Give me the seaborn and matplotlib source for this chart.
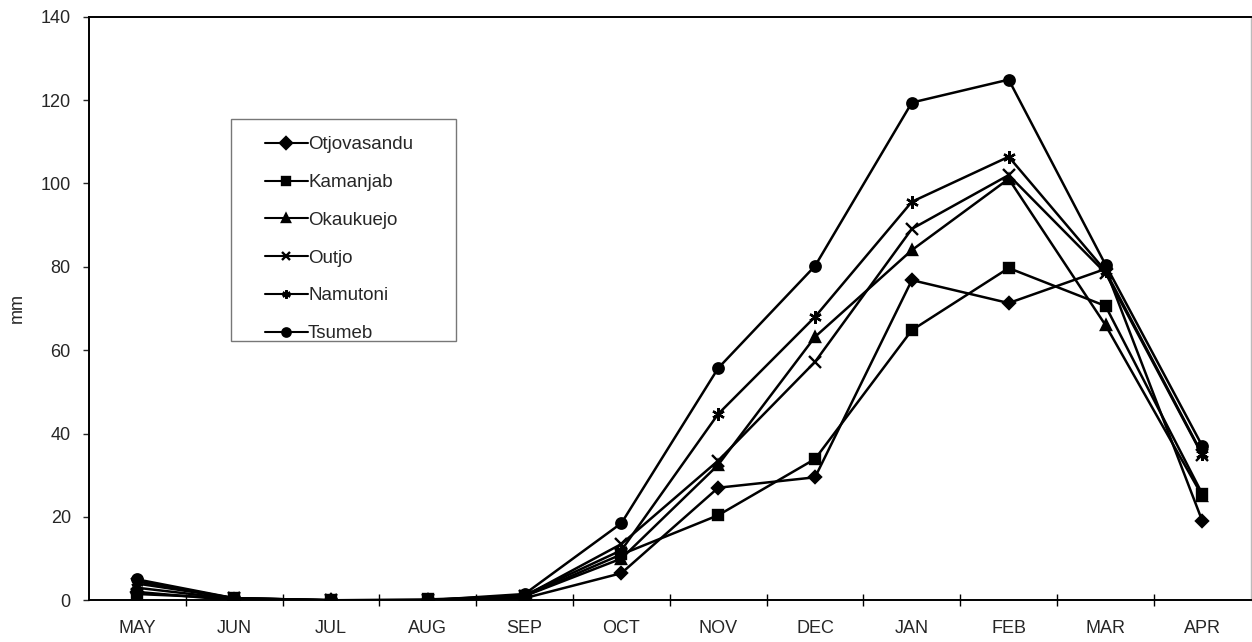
import matplotlib
matplotlib.use("Agg")
import matplotlib.pyplot as plt
import seaborn as sns
import pandas as pd
from matplotlib.patches import Rectangle

months = ["MAY", "JUN", "JUL", "AUG", "SEP", "OCT", "NOV", "DEC", "JAN", "FEB", "MAR", "APR"]
stations = ["Otjovasandu", "Kamanjab", "Okaukuejo", "Outjo", "Namutoni", "Tsumeb"]

otjovasandu = [2.0, 0.0, 0.0, 0.0, 0.5, 6.5, 27.0, 29.5, 76.8, 71.3, 79.5, 19.0]
kamanjab = [1.5, 0.5, 0.0, 0.2, 1.0, 11.0, 20.4, 33.9, 64.8, 79.7, 70.6, 25.5]
okaukuejo = [3.0, 0.3, 0.0, 0.0, 1.0, 10.0, 32.5, 63.2, 84.0, 101.1, 66.0, 25.0]
outjo = [4.0, 0.5, 0.0, 0.0, 1.0, 13.5, 33.5, 57.2, 89.1, 102.0, 78.5, 34.8]
namutoni = [4.5, 0.5, 0.0, 0.0, 1.2, 12.0, 44.7, 68.0, 95.6, 106.4, 79.0, 35.0]
tsumeb = [5.0, 0.5, 0.0, 0.0, 1.5, 18.5, 55.7, 80.2, 119.4, 124.9, 80.5, 37.0]

series = [otjovasandu, kamanjab, okaukuejo, outjo, namutoni, tsumeb]
df = pd.concat(
    [pd.DataFrame({"month": months, "mm": vals, "station": name}) for name, vals in zip(stations, series)],
    ignore_index=True,
)

markers = {"Otjovasandu": "D", "Kamanjab": "s", "Okaukuejo": "^",
           "Outjo": "x", "Namutoni": (6, 2, 0), "Tsumeb": "o"}
msizes = {"Otjovasandu": 6, "Kamanjab": 7, "Okaukuejo": 7,
          "Outjo": 8, "Namutoni": 9, "Tsumeb": 7.5}

sns.set_style("white")
plt.rcParams["font.family"] = ["Liberation Sans", "DejaVu Sans"]

fig = plt.figure(figsize=(12.52, 6.42), dpi=100)
ax = fig.add_axes([0.071, 0.065, 0.928, 0.909])

for name in stations:
    sub = df[df["station"] == name]
    sns.lineplot(data=sub, x="month", y="mm", color="black", marker=markers[name],
                 markersize=msizes[name], markeredgewidth=1.7, markeredgecolor="black",
                 markerfacecolor="black", linewidth=1.8, sort=False, label=name, ax=ax)

ax.set_xlim(-0.5, len(months) - 0.5)
ax.set_ylim(0, 140)
ax.set_yticks(range(0, 141, 20))
ax.set_xticks([i + 0.5 for i in range(len(months) - 1)])
ax.set_xticklabels([])
ax.set_xticks(range(len(months)), minor=True)
ax.set_xticklabels(months, minor=True)
ax.tick_params(axis="x", which="major", direction="inout", length=8, width=1, colors="black", bottom=True)
ax.tick_params(axis="x", which="minor", length=0, labelsize=13, pad=14)
ax.tick_params(axis="y", direction="out", length=4, width=1, labelsize=13, left=True, pad=9)
ax.set_xlabel("")
ax.set_ylabel("mm", fontsize=13)
ax.yaxis.set_label_coords(-0.054, 0.5)

for side in ["left", "bottom", "top"]:
    ax.spines[side].set_color("black")
    ax.spines[side].set_linewidth(1.4)
ax.spines["right"].set_color("#bbbbbb")
ax.spines["right"].set_linewidth(1.0)

# legend frame drawn separately so the side padding can be wider than the top padding
ax.add_patch(Rectangle((0.1222, 0.4438), 0.1936, 0.3804, transform=ax.transAxes,
                       fill=False, edgecolor="#777777", linewidth=1.0, zorder=5))
leg = ax.legend(title=None, loc="upper left", bbox_to_anchor=(0.1515, 0.795),
                fontsize=13.5, frameon=False, handlelength=2.3, handletextpad=0.0,
                labelspacing=1.1, borderpad=0, borderaxespad=0)
for h in leg.legend_handles:
    h.set_markersize(6)
    h.set_linewidth(1.5)

fig.savefig("out.png", dpi=100)
